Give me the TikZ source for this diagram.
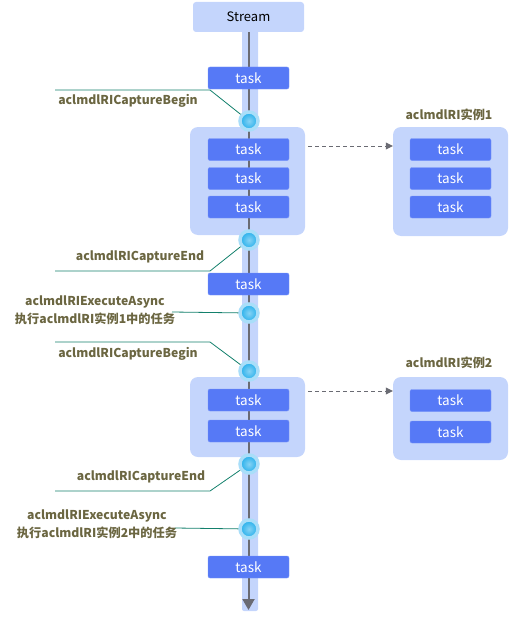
\documentclass[tikz,border=0pt]{standalone}
\usepackage{fontspec}
\setmainfont{Noto Sans CJK SC}
\usepackage{xcolor}
\usepackage{tikz}
\usetikzlibrary{positioning,arrows.meta}
\definecolor{bandblue}{HTML}{C4D5FC}
\definecolor{taskblue}{HTML}{5679F6}
\definecolor{lineteal}{HTML}{13806C}
\definecolor{lbltext}{HTML}{6B6641}
\definecolor{axisgray}{HTML}{6A6B73}
\definecolor{dotblue}{HTML}{22AEEB}
\definecolor{halo}{HTML}{A9DEF9}
\tikzset{
  stream/.style={fill=bandblue, rounded corners=3pt, minimum width=111pt, minimum height=30pt, font=\fontsize{13}{15}\selectfont},
  task/.style={fill=taskblue, draw=taskblue!80!white, rounded corners=2pt, minimum width=81pt, minimum height=22pt, inner sep=0pt, text=white, font=\fontsize{13.5}{15}\selectfont},
  group/.style={fill=bandblue, rounded corners=8pt, inner sep=0pt},
  dot/.style={circle, minimum size=18pt, inner sep=0pt, draw=halo, line width=3.5pt, inner color=dotblue!55!white, outer color=dotblue},
  leader/.style={lineteal, line width=0.8pt},
  lbl/.style={text=lbltext, font=\bfseries\fontsize{12.2}{18}\selectfont, align=center},
}
\begin{document}
\begin{tikzpicture}[x=1pt, y=-1pt]
\useasboundingbox (0,0) rectangle (512,618);
% stream band
\fill[bandblue, rounded corners=2pt] (242,20) rectangle (258,611);
\node[stream] (stream) at (248.5,17) {Stream};
% groups
\node[group, minimum width=115pt, minimum height=108pt] (g1) at (247.5,181) {};
\node[group, minimum width=115pt, minimum height=80pt] (g2) at (247.5,417) {};
\node[group, minimum width=115pt, minimum height=109pt] (r1) at (450.5,181.5) {};
\node[group, minimum width=115pt, minimum height=83pt] (r2) at (450.5,418.5) {};
% main axis
\coordinate (axisend) at (248.5,610);
\draw[axisgray, line width=2pt, -{Triangle[length=11pt, width=12pt]}] (stream.south) -- (axisend);
% tasks on the stream
\node[task] (t1) at (248.5,78) {task};
\node[task] (t2) at (248.5,149.5) {task};
\node[task] (t3) at (248.5,178.5) {task};
\node[task] (t4) at (248.5,207) {task};
\node[task] (t5) at (248.5,284) {task};
\node[task] (t6) at (248.5,400) {task};
\node[task] (t7) at (248.5,431) {task};
\node[task] (t8) at (248.5,567) {task};
% tasks of the instances
\node[task] (r1a) at (450.5,149.5) {task};
\node[task] (r1b) at (450.5,178.5) {task};
\node[task] (r1c) at (450.5,207) {task};
\node[task] (r2a) at (450.5,400.5) {task};
\node[task] (r2b) at (450.5,432) {task};
\node[lbl] (r1lbl) at (449,115) {aclmdlRI实例1};
\node[lbl] (r2lbl) at (449,363) {aclmdlRI实例2};
% dashed arrows
\coordinate (a1) at (308,146);
\coordinate (a2) at (308,391);
\draw[axisgray, dash pattern=on 4pt off 3pt, -{Triangle[length=7pt, width=7pt]}] (a1) -- (r1.west |- a1);
\draw[axisgray, dash pattern=on 4pt off 3pt, -{Triangle[length=7pt, width=7pt]}] (a2) -- (r2.west |- a2);
% dots
\node[dot] (d1) at (249,121) {};
\node[dot] (d2) at (249,240) {};
\node[dot] (d3) at (249,313) {};
\node[dot] (d4) at (249,371) {};
\node[dot] (d5) at (249,464) {};
\node[dot] (d6) at (249,529) {};
% labels
\node[lbl] (lb1) at (128,101) {aclmdlRICaptureBegin};
\node[lbl] (le1) at (140,257) {aclmdlRICaptureEnd};
\node[lbl] (lx1) at (95,310) {aclmdlRIExecuteAsync\\执行aclmdlRI实例1中的任务};
\node[lbl] (lb2) at (128,354) {aclmdlRICaptureBegin};
\node[lbl] (le2) at (141,477) {aclmdlRICaptureEnd};
\node[lbl] (lx2) at (97,524.5) {aclmdlRIExecuteAsync\\执行aclmdlRI实例2中的任务};
% leader lines
\coordinate (lb1s) at (55,90);
\coordinate (le1s) at (55,271);
\coordinate (lx1s) at (172,312);
\coordinate (lb2s) at (55,342);
\coordinate (le2s) at (55,491);
\coordinate (lx2s) at (175,528);
\draw[leader] (lb1s) -- ++(155,0) -- (d1);
\draw[leader] (le1s) -- ++(155,0) -- (d2);
\draw[leader] (lx1s) -- (d3);
\draw[leader] (lb2s) -- ++(155,0) -- (d4);
\draw[leader] (le2s) -- ++(155,0) -- (d5);
\draw[leader] (lx2s) -- (d6);
\end{tikzpicture}
\end{document}
